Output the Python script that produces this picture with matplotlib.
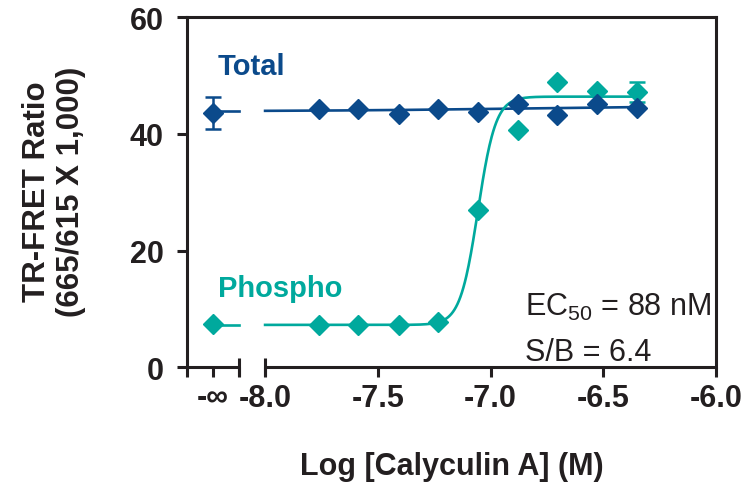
import numpy as np
import matplotlib
matplotlib.use("Agg")
import matplotlib.pyplot as plt

plt.rcParams["font.family"] = ["Liberation Sans", "DejaVu Sans"]
plt.rcParams["mathtext.fontset"] = "custom"
plt.rcParams["mathtext.rm"] = "Liberation Sans"
plt.rcParams["mathtext.it"] = "Liberation Sans:italic"

INK = "#231f20"
TOTAL_COLOR = "#0b4a8b"
PHOSPHO_COLOR = "#00a99d"

# log[Calyculin A] (M); the no-drug control sits at the "-inf" slot
NEG_INF_POS = -8.231
LOG_CONC = [-7.763, -7.586, -7.408, -7.233, -7.056, -6.876, -6.705, -6.528, -6.350]

TOTAL_CTRL = 43.6
TOTAL_CTRL_ERR = 2.75
TOTAL = [44.2, 44.2, 43.5, 44.2, 43.8, 45.2, 43.2, 45.1, 44.5]

PHOSPHO_CTRL = 7.4
PHOSPHO = [7.3, 7.3, 7.3, 7.7, 27.0, 40.6, 48.9, 47.3, 47.2]
PHOSPHO_ERR = [0, 0, 0, 0, 0, 0, 0, 0, 1.65]

# 4-parameter logistic fits: bottom, top, logEC50, hill
PHOSPHO_FIT = (7.27, 46.4, -7.056, 11.0)
TOTAL_FIT = (43.9, 44.8, -6.9, 1.0)

X_TICKS = [-8.0, -7.5, -7.0, -6.5, -6.0]
X_LABELS = ["-8.0", "-7.5", "-7.0", "-6.5", "-6.0"]
Y_TICKS = [0, 20, 40, 60]

# broken x axis: left stub for the control, gap, then the log range
XMIN, BREAK_LO, BREAK_HI, XMAX = -8.345, -8.117, -8.0, -6.0


def four_pl(x, bottom, top, logec50, hill):
    return bottom + (top - bottom) / (1 + 10 ** ((logec50 - x) * hill))


W, H = 754, 489
fig = plt.figure(figsize=(W / 100, H / 100), dpi=100)
ax = fig.add_axes([187.3 / W, 1 - 368.3 / H, (716 - 187.3) / W, (368.3 - 18.3) / H])
ax.set_xlim(XMIN, XMAX)
ax.set_ylim(0, 60)

lw_axis = 2.2
for side in ("left", "top", "right"):
    ax.spines[side].set_linewidth(lw_axis)
    ax.spines[side].set_color(INK)
ax.spines["bottom"].set_visible(False)

# bottom axis drawn as two pieces with end caps at the break
ax.plot([XMIN, BREAK_LO], [0, 0], color=INK, lw=lw_axis, clip_on=False,
        solid_capstyle="butt", zorder=3)
ax.plot([BREAK_HI, XMAX], [0, 0], color=INK, lw=lw_axis, clip_on=False,
        solid_capstyle="butt", zorder=3)
ax.plot([BREAK_LO, BREAK_HI], [0, 0], ls="none", marker="|", ms=13, mew=lw_axis,
        color=INK, clip_on=False, zorder=3)

ax.set_xticks([NEG_INF_POS] + X_TICKS, ["-\u221e"] + X_LABELS)
ax.set_xticks([XMIN, BREAK_LO], minor=True)
ax.set_yticks(Y_TICKS)
ax.tick_params(axis="x", which="both", direction="out", length=7, width=lw_axis,
               color=INK, labelsize=22, pad=4)
ax.tick_params(axis="y", direction="out", length=7, width=lw_axis, color=INK,
               labelsize=22, pad=10)
for lab in ax.get_xticklabels() + ax.get_yticklabels():
    lab.set_fontweight("bold")
    lab.set_color(INK)

# fitted curves
xs = np.linspace(BREAK_HI, LOG_CONC[-1], 500)
ax.plot(xs, four_pl(xs, *TOTAL_FIT), color=TOTAL_COLOR, lw=1.9, zorder=4)
ax.plot([NEG_INF_POS, BREAK_LO], [TOTAL_FIT[0]] * 2, color=TOTAL_COLOR, lw=1.9, zorder=4)
ax.plot(xs, four_pl(xs, *PHOSPHO_FIT), color=PHOSPHO_COLOR, lw=1.9, zorder=4)
ax.plot([NEG_INF_POS, BREAK_LO], [PHOSPHO_FIT[0]] * 2, color=PHOSPHO_COLOR, lw=1.9, zorder=4)

# data points
ms = 10.5
ax.plot(LOG_CONC, PHOSPHO, ls="none", marker="D", ms=ms, color=PHOSPHO_COLOR, zorder=5)
ax.errorbar([LOG_CONC[-1]], [PHOSPHO[-1]], yerr=[PHOSPHO_ERR[-1]], fmt="none",
            ecolor=PHOSPHO_COLOR, elinewidth=1.8, capsize=6, capthick=1.8, zorder=5)
ax.plot([NEG_INF_POS], [PHOSPHO_CTRL], ls="none", marker="D", ms=ms,
        color=PHOSPHO_COLOR, zorder=5)

ax.plot(LOG_CONC, TOTAL, ls="none", marker="D", ms=ms, color=TOTAL_COLOR, zorder=6)
ax.errorbar([NEG_INF_POS], [TOTAL_CTRL], yerr=[TOTAL_CTRL_ERR], fmt="D", ms=ms,
            color=TOTAL_COLOR, elinewidth=1.8, capsize=6, capthick=1.8, zorder=6)

# annotations
ax.text(-8.209, 50.2, "Total", color=TOTAL_COLOR, fontsize=21, fontweight="bold",
        va="baseline")
ax.text(-8.209, 12.2, "Phospho", color=PHOSPHO_COLOR, fontsize=21, fontweight="bold",
        va="baseline")
ax.text(-6.846, 8.9, r"EC$_{50}$ = 88 nM", color=INK, fontsize=22, va="baseline")
ax.text(-6.846, 1.2, "S/B = 6.4", color=INK, fontsize=22, va="baseline")

fig.text(54 / W, 1 - 192 / H, "TR-FRET Ratio\n(665/615 X 1,000)", rotation=90,
         ha="center", va="center", fontsize=22.5, fontweight="bold", color=INK,
         linespacing=1.2)
fig.text(452 / W, 1 - 467 / H, "Log [Calyculin A] (M)", ha="center", va="center",
         fontsize=22, fontweight="bold", color=INK)

fig.savefig("out.png", dpi=100)
